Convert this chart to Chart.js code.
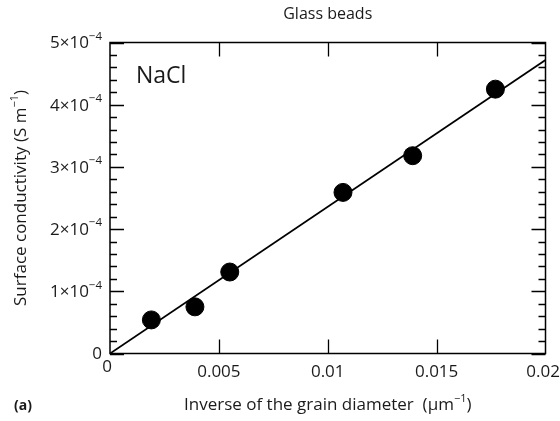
<!DOCTYPE html>
<html>
<head>
<meta charset="utf-8">
<script src="https://cdn.jsdelivr.net/npm/chart.js@4/dist/chart.umd.min.js"></script>
<style>
  html, body { margin: 0; padding: 0; background: #fff; }
  canvas { display: block; }
</style>
</head>
<body>
<canvas id="c" width="560" height="421"></canvas>
<script>
// Measured surface conductivity vs inverse grain diameter (glass beads, NaCl)
const inverseDiameter = [0.0019, 0.0039, 0.0055, 0.0107, 0.0139, 0.0177];
const surfaceConductivity = [0.54e-4, 0.75e-4, 1.31e-4, 2.59e-4, 3.18e-4, 4.25e-4];

// Linear fit through the origin
const fitX = [0, 0.02];
const fitY = [0, 4.72e-4];

// Tick labels
const xTickValues = [0, 0.005, 0.01, 0.015, 0.02];
const xTickLabels = ['0', '0.005', '0.01', '0.015', '0.02'];
const yTickValues = [0, 1e-4, 2e-4, 3e-4, 4e-4, 5e-4];
const yTickMantissa = ['0', '1×10', '2×10', '3×10', '4×10', '5×10'];
const yTickExponent = ['', '−4', '−4', '−4', '−4', '−4'];

const FONT = '"Open Sans", "Noto Sans", sans-serif';

const framePlugin = {
  id: 'frame',
  afterDatasetsDraw(chart) {
    const ctx = chart.ctx;
    const xs = chart.scales.x, ys = chart.scales.y;
    const a = chart.chartArea;
    ctx.save();
    ctx.strokeStyle = '#000';
    ctx.lineWidth = 1.5;
    ctx.strokeRect(a.left, a.top, a.right - a.left, a.bottom - a.top);

    // inward ticks on y (left and right)
    ctx.lineWidth = 1.3;
    ctx.beginPath();
    for (let i = 0; i <= 25; i++) {
      const v = i * 0.2e-4;
      const py = Math.round(ys.getPixelForValue(v)) + 0.5;
      const len = (i % 5 === 0) ? 14 : 7;
      ctx.moveTo(a.left, py); ctx.lineTo(a.left + len, py);
      ctx.moveTo(a.right, py); ctx.lineTo(a.right - len, py);
    }
    // inward ticks on x (bottom and top)
    for (let i = 1; i < xTickValues.length - 1; i++) {
      const px = Math.round(xs.getPixelForValue(xTickValues[i])) + 0.5;
      ctx.moveTo(px, a.bottom); ctx.lineTo(px, a.bottom - 14);
      ctx.moveTo(px, a.top); ctx.lineTo(px, a.top + 14);
    }
    ctx.stroke();

    ctx.fillStyle = '#1a1a1a';
    // x tick labels
    ctx.font = '17px ' + FONT;
    ctx.textBaseline = 'middle';
    ctx.textAlign = 'center';
    xTickValues.forEach((v, i) => {
      const w = ctx.measureText(xTickLabels[i]).width;
      let px = xs.getPixelForValue(v);
      px = Math.min(px, chart.width - w / 2);
      const dy = (i === 0) ? 367 : 372;
      if (i === 0) px -= 3;
      ctx.fillText(xTickLabels[i], px, dy);
    });

    // y tick labels with superscript exponent
    yTickValues.forEach((v, i) => {
      const py = ys.getPixelForValue(v);
      const right = a.left - 8;
      ctx.font = '11.5px ' + FONT;
      const ew = yTickExponent[i] ? ctx.measureText(yTickExponent[i]).width : 0;
      ctx.textAlign = 'right';
      if (yTickExponent[i]) {
        ctx.fillText(yTickExponent[i], right, py - 6);
      }
      ctx.font = '17px ' + FONT;
      ctx.fillText(yTickMantissa[i], right - ew, py + 1);
    });

    // title
    ctx.font = '16px ' + FONT;
    ctx.textAlign = 'center';
    ctx.fillText('Glass beads', (a.left + a.right) / 2, 14);

    // x axis title
    const xt1 = 'Inverse of the grain diameter  (μm';
    const xt2 = ')';
    ctx.font = '11px ' + FONT;
    const supW = ctx.measureText('−1').width;
    ctx.font = '17px ' + FONT;
    const w1 = ctx.measureText(xt1).width, w2 = ctx.measureText(xt2).width;
    let sx = (a.left + a.right) / 2 - (w1 + supW + w2) / 2;
    ctx.textAlign = 'left';
    ctx.fillText(xt1, sx, 405);
    ctx.font = '11px ' + FONT;
    ctx.fillText('−1', sx + w1, 399);
    ctx.font = '17px ' + FONT;
    ctx.fillText(xt2, sx + w1 + supW, 405);

    // y axis title (rotated)
    ctx.save();
    ctx.translate(21, (a.top + a.bottom) / 2);
    ctx.rotate(-Math.PI / 2);
    const yt1 = 'Surface conductivity (S m';
    const yt2 = ')';
    ctx.font = '17px ' + FONT;
    const yw1 = ctx.measureText(yt1).width, yw2 = ctx.measureText(yt2).width;
    let sy = -(yw1 + supW + yw2) / 2;
    ctx.fillText(yt1, sy, 0);
    ctx.font = '11px ' + FONT;
    ctx.fillText('−1', sy + yw1, -6);
    ctx.font = '17px ' + FONT;
    ctx.fillText(yt2, sy + yw1 + supW, 0);
    ctx.restore();

    // panel label
    ctx.font = 'bold 14px ' + FONT;
    ctx.textAlign = 'left';
    ctx.fillText('(a)', 14, 406);

    // salt label
    ctx.font = '23px ' + FONT;
    ctx.fillText('NaCl', 136, 76);
    ctx.restore();
  }
};

new Chart(document.getElementById('c'), {
  type: 'scatter',
  data: {
    datasets: [
      {
        type: 'line',
        data: fitX.map((x, i) => ({ x, y: fitY[i] })),
        borderColor: '#000',
        borderWidth: 1.8,
        pointRadius: 0,
        fill: false,
        order: 2
      },
      {
        data: inverseDiameter.map((x, i) => ({ x, y: surfaceConductivity[i] })),
        backgroundColor: '#000',
        borderColor: '#000',
        pointRadius: 9,
        pointHoverRadius: 9,
        order: 1
      }
    ]
  },
  options: {
    responsive: false,
    animation: false,
    events: [],
    layout: { padding: { left: 110, right: 14.5, top: 42.5, bottom: 67.5 } },
    plugins: { legend: { display: false }, tooltip: { enabled: false }, title: { display: false } },
    scales: {
      x: {
        type: 'linear', min: 0, max: 0.02,
        grid: { display: false }, border: { display: false },
        ticks: { display: false },
        afterFit(s) { s.height = 0; }
      },
      y: {
        type: 'linear', min: 0, max: 5e-4,
        grid: { display: false }, border: { display: false },
        ticks: { display: false },
        afterFit(s) { s.width = 0; }
      }
    }
  },
  plugins: [framePlugin]
});
</script>
</body>
</html>
